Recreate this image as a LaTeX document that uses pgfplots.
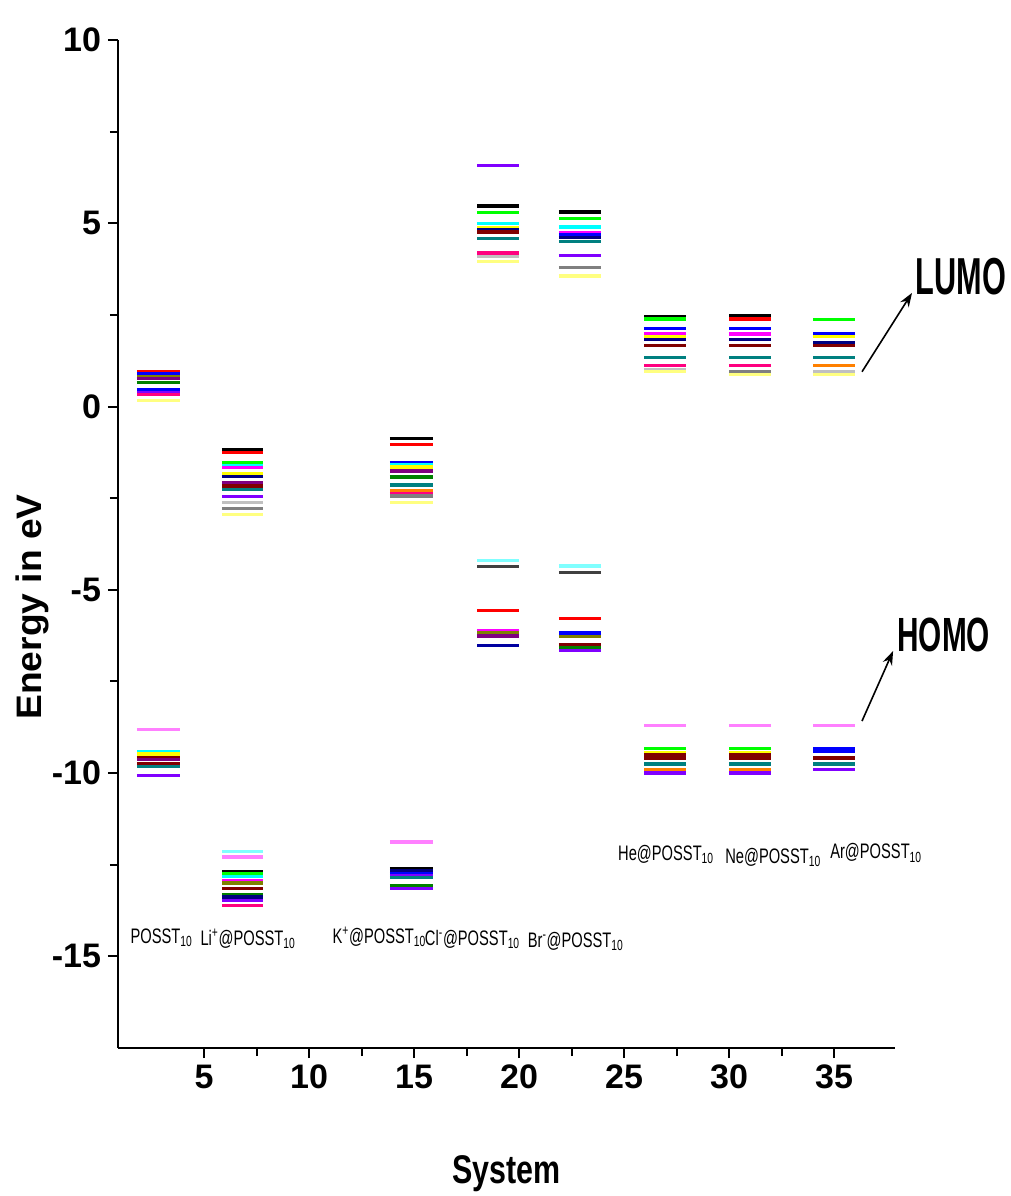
\documentclass[border=0pt]{standalone}
\usepackage{pgfplots}
\pgfplotsset{compat=1.18}
\usetikzlibrary{arrows.meta}
\usepackage{fontspec}
\setmainfont{Liberation Sans}
\definecolor{oBlack}{RGB}{0,0,0}
\definecolor{oRed}{RGB}{255,0,0}
\definecolor{oGreen}{RGB}{0,255,0}
\definecolor{oBlue}{RGB}{0,0,255}
\definecolor{oCyan}{RGB}{0,255,255}
\definecolor{oMagenta}{RGB}{255,0,255}
\definecolor{oYellow}{RGB}{255,255,0}
\definecolor{oDYellow}{RGB}{128,128,0}
\definecolor{oNavy}{RGB}{0,0,128}
\definecolor{oPurple}{RGB}{128,0,128}
\definecolor{oWine}{RGB}{128,0,0}
\definecolor{oOlive}{RGB}{0,128,0}
\definecolor{oDCyan}{RGB}{0,128,128}
\definecolor{oRoyal}{RGB}{0,0,160}
\definecolor{oOrange}{RGB}{255,128,0}
\definecolor{oViolet}{RGB}{128,0,255}
\definecolor{oPink}{RGB}{255,0,128}
\definecolor{oLGray}{RGB}{192,192,192}
\definecolor{oGray}{RGB}{128,128,128}
\definecolor{oLYellow}{RGB}{255,255,128}
\definecolor{oLCyan}{RGB}{128,255,255}
\definecolor{oLMagenta}{RGB}{255,128,255}
\definecolor{oDGray}{RGB}{64,64,64}
\newcommand{\lab}[1]{\scalebox{0.7}[1]{\fontsize{10.5}{12}\selectfont #1}}
\begin{document}
\begin{tikzpicture}
\useasboundingbox (-59pt,-74pt) rectangle (446.5pt,524pt);
\begin{axis}[
  scale only axis, width=388.5pt, height=504pt,
  xmin=0.9, xmax=37.9, ymin=-17.5, ymax=10,
  axis x line*=bottom, axis y line*=left,
  axis line style={line width=1.2pt},
  xtick={5,10,...,35}, ytick={-15,-10,...,10},
  minor x tick num=1, minor y tick num=1,
  tick align=outside, major tick length=5pt, minor tick length=4pt,
  every tick/.style={line width=1pt, black},
  tick label style={font=\fontsize{17}{20}\selectfont\bfseries},
  /pgf/number format/assume math mode=true,
  xlabel={\scalebox{0.76}[1]{\fontsize{20}{24}\selectfont\bfseries System}},
  ylabel={\scalebox{1.05}[1]{\fontsize{17.7}{21}\selectfont\bfseries Energy in eV}},
  every axis x label/.style={at={(rel axis cs:0.5,0)}, anchor=center, yshift=-63pt},
  every axis y label/.style={at={(rel axis cs:0,0.4375)}, xshift=-43pt, rotate=90, anchor=center},
  clip=false,
  every axis plot/.append style={line width=1.6pt},
]
% POSST10 LUMO
\addplot[oRed] coordinates {(1.8,0.96) (3.85,0.96)};
\addplot[oBlue] coordinates {(1.8,0.90) (3.85,0.90)};
\addplot[oDYellow] coordinates {(1.8,0.83) (3.85,0.83)};
\addplot[oPurple] coordinates {(1.8,0.76) (3.85,0.76)};
\addplot[oOlive] coordinates {(1.8,0.66) (3.85,0.66)};
\addplot[oBlue] coordinates {(1.8,0.46) (3.85,0.46)};
\addplot[oViolet] coordinates {(1.8,0.39) (3.85,0.39)};
\addplot[oPink] coordinates {(1.8,0.33) (3.85,0.33)};
\addplot[oLYellow] coordinates {(1.8,0.16) (3.85,0.16)};
% POSST10 HOMO
\addplot[oLMagenta] coordinates {(1.8,-8.80) (3.85,-8.80)};
\addplot[oCyan] coordinates {(1.8,-9.41) (3.85,-9.41)};
\addplot[oYellow] coordinates {(1.8,-9.48) (3.85,-9.48)};
\addplot[oWine] coordinates {(1.8,-9.57) (3.85,-9.57)};
\addplot[oPurple] coordinates {(1.8,-9.63) (3.85,-9.63)};
\addplot[oWine] coordinates {(1.8,-9.73) (3.85,-9.73)};
\addplot[oDCyan] coordinates {(1.8,-9.81) (3.85,-9.81)};
\addplot[oViolet] coordinates {(1.8,-10.07) (3.85,-10.07)};
% Li LUMO
\addplot[oBlack] coordinates {(5.85,-1.17) (7.8,-1.17)};
\addplot[oRed] coordinates {(5.85,-1.26) (7.8,-1.26)};
\addplot[oGreen] coordinates {(5.85,-1.52) (7.8,-1.52)};
\addplot[oCyan] coordinates {(5.85,-1.60) (7.8,-1.60)};
\addplot[oMagenta] coordinates {(5.85,-1.67) (7.8,-1.67)};
\addplot[oYellow] coordinates {(5.85,-1.83) (7.8,-1.83)};
\addplot[oNavy] coordinates {(5.85,-1.91) (7.8,-1.91)};
\addplot[oPurple] coordinates {(5.85,-2.08) (7.8,-2.08)};
\addplot[oWine] coordinates {(5.85,-2.17) (7.8,-2.17)};
\addplot[oDCyan] coordinates {(5.85,-2.26) (7.8,-2.26)};
\addplot[oViolet] coordinates {(5.85,-2.46) (7.8,-2.46)};
\addplot[oLGray] coordinates {(5.85,-2.62) (7.8,-2.62)};
\addplot[oGray] coordinates {(5.85,-2.78) (7.8,-2.78)};
\addplot[oLYellow] coordinates {(5.85,-2.94) (7.8,-2.94)};
% Li HOMO
\addplot[oLCyan] coordinates {(5.85,-12.13) (7.8,-12.13)};
\addplot[oLMagenta] coordinates {(5.85,-12.29) (7.8,-12.29)};
\addplot[oBlack] coordinates {(5.85,-12.68) (7.8,-12.68)};
\addplot[oGreen] coordinates {(5.85,-12.74) (7.8,-12.74)};
\addplot[oCyan] coordinates {(5.85,-12.82) (7.8,-12.82)};
\addplot[oMagenta] coordinates {(5.85,-12.93) (7.8,-12.93)};
\addplot[oDYellow] coordinates {(5.85,-13.00) (7.8,-13.00)};
\addplot[oWine] coordinates {(5.85,-13.15) (7.8,-13.15)};
\addplot[oOlive] coordinates {(5.85,-13.32) (7.8,-13.32)};
\addplot[oNavy] coordinates {(5.85,-13.38) (7.8,-13.38)};
\addplot[oViolet] coordinates {(5.85,-13.47) (7.8,-13.47)};
\addplot[oPink] coordinates {(5.85,-13.62) (7.8,-13.62)};
% K LUMO
\addplot[oBlack] coordinates {(13.85,-0.87) (15.9,-0.87)};
\addplot[oRed] coordinates {(13.85,-1.03) (15.9,-1.03)};
\addplot[oBlue] coordinates {(13.85,-1.52) (15.9,-1.52)};
\addplot[oCyan] coordinates {(13.85,-1.58) (15.9,-1.58)};
\addplot[oYellow] coordinates {(13.85,-1.65) (15.9,-1.65)};
\addplot[oPurple] coordinates {(13.85,-1.76) (15.9,-1.76)};
\addplot[oOlive] coordinates {(13.85,-1.92) (15.9,-1.92)};
\addplot[oDCyan] coordinates {(13.85,-2.14) (15.9,-2.14)};
\addplot[oOrange] coordinates {(13.85,-2.29) (15.9,-2.29)};
\addplot[oPink] coordinates {(13.85,-2.37) (15.9,-2.37)};
\addplot[oGray] coordinates {(13.85,-2.44) (15.9,-2.44)};
\addplot[oLYellow] coordinates {(13.85,-2.62) (15.9,-2.62)};
% K HOMO
\addplot[oLMagenta] coordinates {(13.85,-11.88) (15.9,-11.88)};
\addplot[oBlack] coordinates {(13.85,-12.61) (15.9,-12.61)};
\addplot[oNavy] coordinates {(13.85,-12.67) (15.9,-12.67)};
\addplot[oBlue] coordinates {(13.85,-12.73) (15.9,-12.73)};
\addplot[oViolet] coordinates {(13.85,-12.79) (15.9,-12.79)};
\addplot[oDCyan] coordinates {(13.85,-12.85) (15.9,-12.85)};
\addplot[oOlive] coordinates {(13.85,-13.08) (15.9,-13.08)};
\addplot[oViolet] coordinates {(13.85,-13.15) (15.9,-13.15)};
% Cl LUMO
\addplot[oViolet] coordinates {(18,6.57) (20,6.57)};
\addplot[oBlack] coordinates {(18,5.47) (20,5.47)};
\addplot[oGreen] coordinates {(18,5.30) (20,5.30)};
\addplot[oCyan] coordinates {(18,4.99) (20,4.99)};
\addplot[oYellow] coordinates {(18,4.89) (20,4.89)};
\addplot[oNavy] coordinates {(18,4.82) (20,4.82)};
\addplot[oWine] coordinates {(18,4.76) (20,4.76)};
\addplot[oDCyan] coordinates {(18,4.58) (20,4.58)};
\addplot[oPink] coordinates {(18,4.19) (20,4.19)};
\addplot[oLGray] coordinates {(18,4.09) (20,4.09)};
\addplot[oLYellow] coordinates {(18,3.95) (20,3.95)};
% Cl HOMO
\addplot[oLCyan] coordinates {(18,-4.19) (20,-4.19)};
\addplot[oDGray] coordinates {(18,-4.36) (20,-4.36)};
\addplot[oRed] coordinates {(18,-5.56) (20,-5.56)};
\addplot[oMagenta] coordinates {(18,-6.10) (20,-6.10)};
\addplot[oDYellow] coordinates {(18,-6.18) (20,-6.18)};
\addplot[oPurple] coordinates {(18,-6.26) (20,-6.26)};
\addplot[oRoyal] coordinates {(18,-6.51) (20,-6.51)};
% Br LUMO
\addplot[oBlack] coordinates {(21.9,5.31) (23.9,5.31)};
\addplot[oGreen] coordinates {(21.9,5.14) (23.9,5.14)};
\addplot[oCyan] coordinates {(21.9,4.90) (23.9,4.90)};
\addplot[oMagenta] coordinates {(21.9,4.75) (23.9,4.75)};
\addplot[oBlue] coordinates {(21.9,4.68) (23.9,4.68)};
\addplot[oNavy] coordinates {(21.9,4.62) (23.9,4.62)};
\addplot[oDCyan] coordinates {(21.9,4.51) (23.9,4.51)};
\addplot[oViolet] coordinates {(21.9,4.11) (23.9,4.11)};
\addplot[oGray] coordinates {(21.9,3.79) (23.9,3.79)};
\addplot[oLYellow] coordinates {(21.9,3.56) (23.9,3.56)};
% Br HOMO
\addplot[oLCyan] coordinates {(21.9,-4.35) (23.9,-4.35)};
\addplot[oDGray] coordinates {(21.9,-4.52) (23.9,-4.52)};
\addplot[oRed] coordinates {(21.9,-5.79) (23.9,-5.79)};
\addplot[oBlue] coordinates {(21.9,-6.18) (23.9,-6.18)};
\addplot[oDYellow] coordinates {(21.9,-6.27) (23.9,-6.27)};
\addplot[oWine] coordinates {(21.9,-6.50) (23.9,-6.50)};
\addplot[oOlive] coordinates {(21.9,-6.58) (23.9,-6.58)};
\addplot[oViolet] coordinates {(21.9,-6.66) (23.9,-6.66)};
% He LUMO
\addplot[oBlack] coordinates {(25.95,2.46) (27.95,2.46)};
\addplot[oGreen] coordinates {(25.95,2.39) (27.95,2.39)};
\addplot[oBlue] coordinates {(25.95,2.14) (27.95,2.14)};
\addplot[oMagenta] coordinates {(25.95,1.98) (27.95,1.98)};
\addplot[oYellow] coordinates {(25.95,1.90) (27.95,1.90)};
\addplot[oNavy] coordinates {(25.95,1.82) (27.95,1.82)};
\addplot[oWine] coordinates {(25.95,1.66) (27.95,1.66)};
\addplot[oDCyan] coordinates {(25.95,1.34) (27.95,1.34)};
\addplot[oPink] coordinates {(25.95,1.11) (27.95,1.11)};
\addplot[oLGray] coordinates {(25.95,1.02) (27.95,1.02)};
\addplot[oLYellow] coordinates {(25.95,0.96) (27.95,0.96)};
% He HOMO
\addplot[oLMagenta] coordinates {(25.95,-8.71) (27.95,-8.71)};
\addplot[oGreen] coordinates {(25.95,-9.34) (27.95,-9.34)};
\addplot[oYellow] coordinates {(25.95,-9.43) (27.95,-9.43)};
\addplot[oWine] coordinates {(25.95,-9.50) (27.95,-9.50)};
\addplot[oWine] coordinates {(25.95,-9.59) (27.95,-9.59)};
\addplot[oDCyan] coordinates {(25.95,-9.75) (27.95,-9.75)};
\addplot[oOrange] coordinates {(25.95,-9.90) (27.95,-9.90)};
\addplot[oViolet] coordinates {(25.95,-10.00) (27.95,-10.00)};
% Ne LUMO
\addplot[oBlack] coordinates {(30,2.48) (32,2.48)};
\addplot[oRed] coordinates {(30,2.39) (32,2.39)};
\addplot[oBlue] coordinates {(30,2.14) (32,2.14)};
\addplot[oMagenta] coordinates {(30,1.98) (32,1.98)};
\addplot[oNavy] coordinates {(30,1.82) (32,1.82)};
\addplot[oWine] coordinates {(30,1.66) (32,1.66)};
\addplot[oDCyan] coordinates {(30,1.34) (32,1.34)};
\addplot[oPink] coordinates {(30,1.11) (32,1.11)};
\addplot[oGray] coordinates {(30,0.95) (32,0.95)};
\addplot[oLYellow] coordinates {(30,0.87) (32,0.87)};
% Ne HOMO
\addplot[oLMagenta] coordinates {(30,-8.71) (32,-8.71)};
\addplot[oGreen] coordinates {(30,-9.34) (32,-9.34)};
\addplot[oYellow] coordinates {(30,-9.43) (32,-9.43)};
\addplot[oWine] coordinates {(30,-9.50) (32,-9.50)};
\addplot[oWine] coordinates {(30,-9.59) (32,-9.59)};
\addplot[oDCyan] coordinates {(30,-9.75) (32,-9.75)};
\addplot[oOrange] coordinates {(30,-9.90) (32,-9.90)};
\addplot[oViolet] coordinates {(30,-10.00) (32,-10.00)};
% Ar LUMO
\addplot[oGreen] coordinates {(34,2.37) (36,2.37)};
\addplot[oBlue] coordinates {(34,1.98) (36,1.98)};
\addplot[oYellow] coordinates {(34,1.90) (36,1.90)};
\addplot[oNavy] coordinates {(34,1.75) (36,1.75)};
\addplot[oWine] coordinates {(34,1.67) (36,1.67)};
\addplot[oDCyan] coordinates {(34,1.34) (36,1.34)};
\addplot[oOrange] coordinates {(34,1.12) (36,1.12)};
\addplot[oLGray] coordinates {(34,0.96) (36,0.96)};
\addplot[oLYellow] coordinates {(34,0.87) (36,0.87)};
% Ar HOMO
\addplot[oLMagenta] coordinates {(34,-8.71) (36,-8.71)};
\addplot[oBlue] coordinates {(34,-9.34) (36,-9.34)};
\addplot[oBlue] coordinates {(34,-9.41) (36,-9.41)};
\addplot[oWine] coordinates {(34,-9.59) (36,-9.59)};
\addplot[oDCyan] coordinates {(34,-9.75) (36,-9.75)};
\addplot[oViolet] coordinates {(34,-9.91) (36,-9.91)};
% system labels
\node[anchor=base west, inner sep=0pt] at (axis cs:1.48,-14.65) {\lab{POSST\textsubscript{10}}};
\node[anchor=base west, inner sep=0pt] at (axis cs:4.81,-14.70) {\lab{Li\textsuperscript{+}@POSST\textsubscript{10}}};
\node[anchor=base west, inner sep=0pt] at (axis cs:11.1,-14.65) {\lab{K\textsuperscript{+}@POSST\textsubscript{10}}};
\node[anchor=base west, inner sep=0pt] at (axis cs:15.5,-14.70) {\lab{Cl\textsuperscript{-}@POSST\textsubscript{10}}};
\node[anchor=base west, inner sep=0pt] at (axis cs:20.4,-14.75) {\lab{Br\textsuperscript{-}@POSST\textsubscript{10}}};
\node[anchor=base west, inner sep=0pt] at (axis cs:24.7,-12.39) {\lab{He@POSST\textsubscript{10}}};
\node[anchor=base west, inner sep=0pt] at (axis cs:29.8,-12.47) {\lab{Ne@POSST\textsubscript{10}}};
\node[anchor=base west, inner sep=0pt] at (axis cs:34.8,-12.34) {\lab{Ar@POSST\textsubscript{10}}};
% LUMO / HOMO annotations
\draw[line width=0.8pt, -{Stealth[length=7pt,width=5pt]}] (axis cs:36.33,0.95) -- (axis cs:38.71,3.10);
\draw[line width=0.8pt, -{Stealth[length=7pt,width=5pt]}] (axis cs:36.33,-8.58) -- (axis cs:37.81,-6.67);
\node[anchor=base west, inner sep=0pt] at (axis cs:38.86,3.05) {\scalebox{0.59}[1]{\fontsize{26}{30}\selectfont\bfseries LUMO}};
\node[anchor=base west, inner sep=0pt] at (axis cs:38.0,-6.67) {\scalebox{0.62}[1]{\fontsize{24}{28}\selectfont\bfseries HOMO}};
\end{axis}
\end{tikzpicture}
\end{document}
